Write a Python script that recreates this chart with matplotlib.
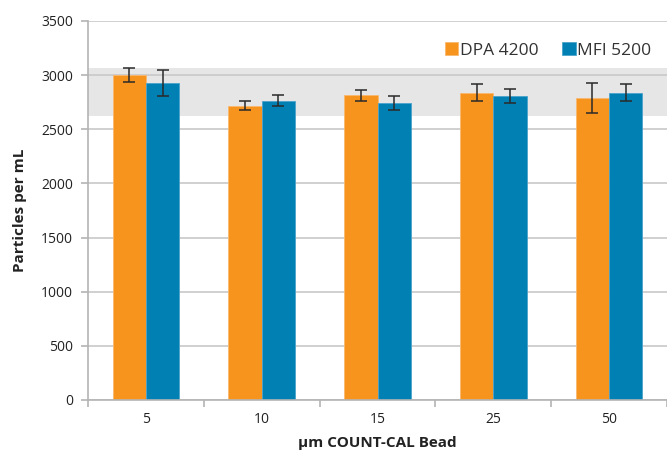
import numpy as np
import matplotlib.pyplot as plt

# datos
beads = ['5', '10', '15', '25', '50']
dpa = [3000, 2715, 2813, 2838, 2786]
dpa_err = [68, 42, 52, 78, 138]
mfi = [2925, 2761, 2742, 2810, 2838]
mfi_err = [118, 50, 62, 65, 78]
band = (2625, 3065)

orange = '#F7941D'
blue = '#0080B3'
grid_c = '#c8c8c8'

plt.rcParams['font.family'] = ['Open Sans', 'DejaVu Sans']

fig = plt.figure(figsize=(6.67, 4.53), dpi=100)
ax = fig.add_axes([0.132, 0.117, 0.868, 0.837])

x = np.arange(len(beads))
w = 0.287

# banda gris de referencia
ax.axhspan(band[0], band[1], color='#e6e6e6', zorder=0, lw=0)
ax.set_axisbelow(True)
ax.yaxis.grid(True, color=grid_c, lw=1.2, zorder=1)

ekw = dict(ecolor='#2a2a2a', elinewidth=1.1, capsize=4.5, capthick=1.1)
ax.bar(x - w / 2, dpa, w, yerr=dpa_err, color=orange, edgecolor='#f9b870',
       lw=0.6, label='DPA 4200', zorder=2, error_kw=ekw)
ax.bar(x + w / 2, mfi, w, yerr=mfi_err, color=blue, edgecolor='#4aa3cc',
       lw=0.6, label='MFI 5200', zorder=2, error_kw=ekw)

ax.set_xlim(-0.5, 4.465)
ax.set_ylim(0, 3500)
ax.set_yticks(np.arange(0, 3501, 500))
ax.set_xticks(x)
ax.set_xticklabels(beads)
ax.set_xticks(np.arange(-0.5, 4.6, 1), minor=True)

for s in ['top', 'right']:
    ax.spines[s].set_visible(False)
for s in ['left', 'bottom']:
    ax.spines[s].set_color('#b4b4b4')
    ax.spines[s].set_linewidth(1.2)

ax.tick_params(axis='x', which='major', length=0, pad=9, labelsize=10, labelcolor='#222222')
ax.tick_params(axis='x', which='minor', length=5, color='#b4b4b4', width=1.2)
ax.tick_params(axis='y', length=5, color='#b4b4b4', width=1.2, pad=6,
               labelsize=10, labelcolor='#222222')

ax.set_ylabel('Particles per mL', fontsize=11, fontweight='bold', labelpad=10, color='#222222')
ax.set_xlabel('µm COUNT-CAL Bead', fontsize=11, fontweight='bold', labelpad=6, color='#222222')

leg = ax.legend(loc='upper right', ncol=2, frameon=False, fontsize=12.5,
                bbox_to_anchor=(1.0, 0.985), handlelength=0.75, handleheight=0.75,
                handletextpad=0.1, columnspacing=1.4, labelcolor='#333333')

fig.savefig('out.png', dpi=100)
